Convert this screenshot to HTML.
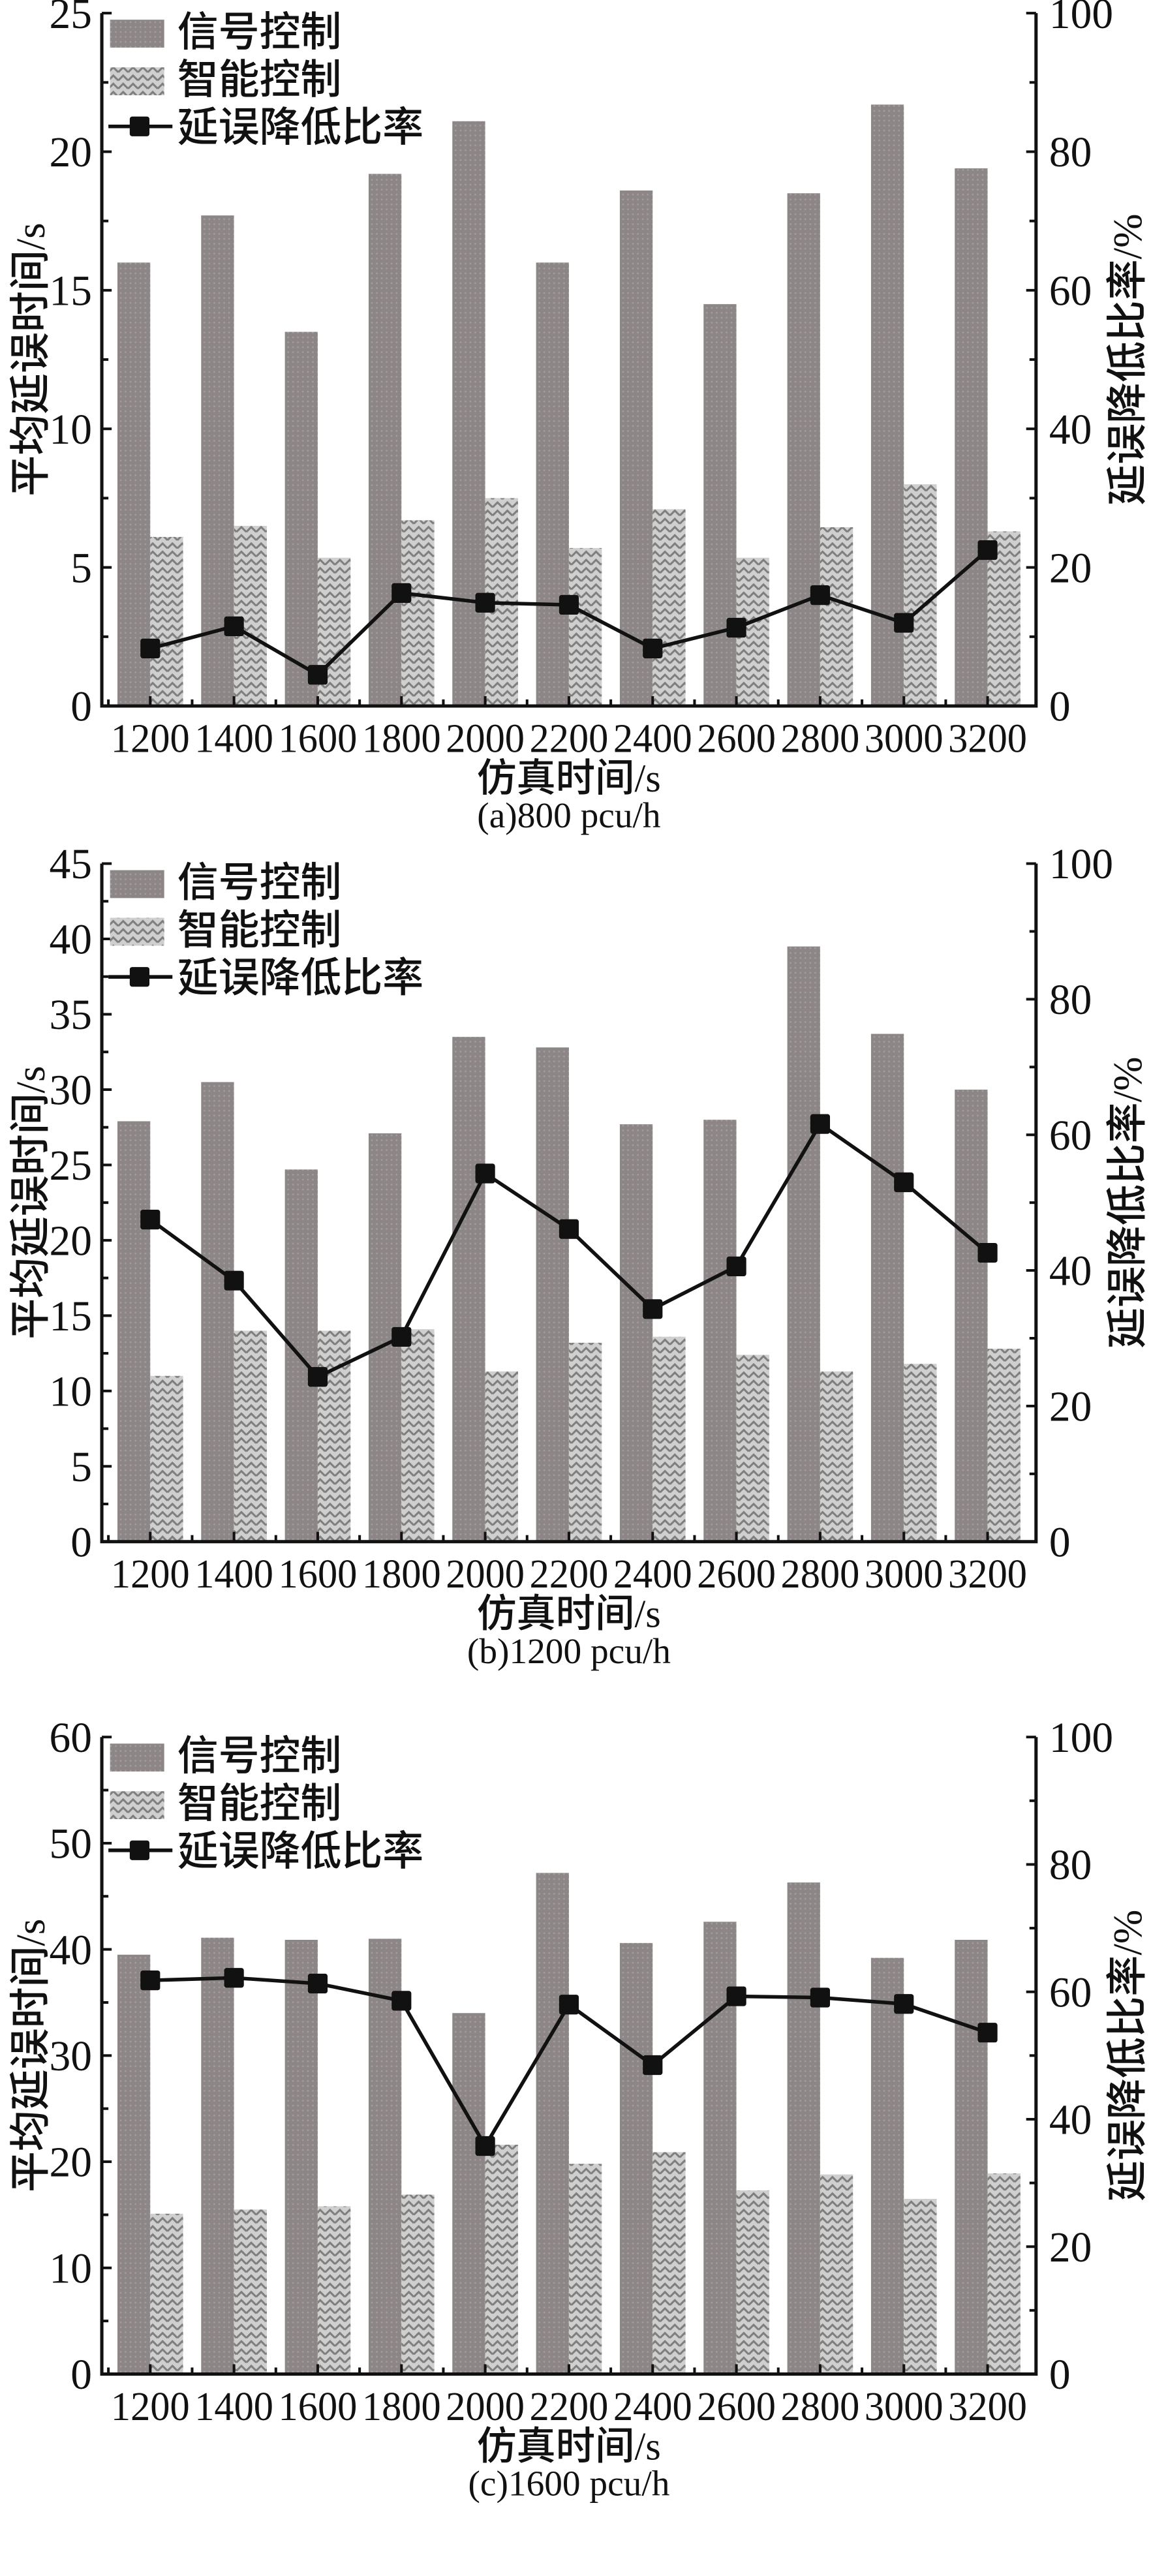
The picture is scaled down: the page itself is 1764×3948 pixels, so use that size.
<!DOCTYPE html>
<html><head><meta charset="utf-8"><style>
html,body{margin:0;padding:0;background:#fff}
svg{display:block}
text{font-family:"Liberation Serif","Noto Serif CJK SC",serif;fill:#111}
.cjk{font-family:"Noto Sans CJK SC","Noto Serif CJK SC",sans-serif;font-weight:500}
</style></head><body>
<svg id="fig" width="1764" height="3948" viewBox="0 0 701 1569" xmlns="http://www.w3.org/2000/svg">
<defs>
<pattern id="pSig" width="3" height="3" patternUnits="userSpaceOnUse"><rect width="3" height="3" fill="#8d8686"/><rect x="1" y="1" width="1" height="1" fill="#a49d9d"/></pattern>
<pattern id="pSmart" width="6" height="5" patternUnits="userSpaceOnUse"><rect width="6" height="5" fill="#cfcfcf"/><path d="M0 4 L3 1 L6 4" fill="none" stroke="#7e7e7e" stroke-width="1.2"/></pattern>
</defs>
</svg>
<script>
const categories = ['1200','1400','1600','1800','2000','2200','2400','2600','2800','3000','3200'];
const signalA = [16, 17.7, 13.5, 19.2, 21.1, 16, 18.6, 14.5, 18.5, 21.7, 19.4];
const smartA = [6.1, 6.5, 5.35, 6.7, 7.5, 5.7, 7.1, 5.35, 6.45, 8.0, 6.3];
const ratioA = [8.3, 11.5, 4.5, 16.3, 14.9, 14.6, 8.3, 11.3, 16, 12, 22.5];
const signalB = [27.9, 30.5, 24.7, 27.1, 33.5, 32.8, 27.7, 28, 39.5, 33.7, 30];
const smartB = [11, 14, 14, 14.1, 11.3, 13.2, 13.6, 12.4, 11.3, 11.8, 12.8];
const ratioB = [47.5, 38.5, 24.3, 30.2, 54.3, 46.1, 34.3, 40.6, 61.6, 53, 42.6];
const signalC = [39.5, 41.1, 40.9, 41, 34, 47.2, 40.6, 42.6, 46.3, 39.2, 40.9];
const smartC = [15.1, 15.5, 15.8, 16.9, 21.6, 19.8, 20.9, 17.3, 18.8, 16.5, 18.9];
const ratioC = [61.8, 62.2, 61.3, 58.6, 35.8, 58, 48.5, 59.3, 59.1, 58.1, 53.6];
const leftTicksA = [0,5,10,15,20,25];
const leftTicksB = [0,5,10,15,20,25,30,35,40,45];
const leftTicksC = [0,10,20,30,40,50,60];
const rightTicks = [0,20,40,60,80,100];
const captions = ['(a)800 pcu/h','(b)1200 pcu/h','(c)1600 pcu/h'];

const svg = document.getElementById('fig');
const NS = 'http://www.w3.org/2000/svg';
function mk(tag, attrs, parent){const e=document.createElementNS(NS,tag);for(const k in attrs)e.setAttribute(k,attrs[k]);(parent||svg).appendChild(e);return e;}

function chart(key, top, bottom, leftTicks, sig, sm, ratio, caption){
  const g = mk('g',{});
  
  
  const L=62, R=631, lmax=leftTicks[leftTicks.length-1];
  const yL = v => bottom - (v/lmax)*(bottom-top);
  const yR = v => bottom - (v/100)*(bottom-top);
  const step=(R-L-8)/categories.length;
  const xC = i => L+4+step*(i+0.5);
  const bw=20;
  categories.forEach((c,i)=>{
    const b1=mk('rect',{x:xC(i)-bw,y:yL(sig[i]),width:bw,height:bottom-yL(sig[i]),fill:'url(#pSig)'},g);
    
    
    const b2=mk('rect',{x:xC(i),y:yL(sm[i]),width:bw,height:bottom-yL(sm[i]),fill:'url(#pSmart)'},g);
    
    
  });
  const pts=ratio.map((v,i)=>xC(i)+','+yR(v)).join(' ');
  const ln=mk('polyline',{points:pts,fill:'none',stroke:'#111','stroke-width':2.2},g);
  
  
  ratio.forEach((v,i)=>{
    const m=mk('rect',{x:xC(i)-6,y:yR(v)-6,width:12,height:12,rx:1.5,fill:'#111'},g);
    
    
  });
  const ax=mk('path',{d:`M${L} ${top} V${bottom} H${R} V${top}`,fill:'none',stroke:'#111','stroke-width':2},g);
  
  
  const st=leftTicks[1]-leftTicks[0];
  for(let v=0; v<=lmax+1e-9; v+=st/2){
    const major=Math.abs((v/st)-Math.round(v/st))<1e-6;
    mk('line',{x1:L,x2:L+(major?6:4),y1:yL(v),y2:yL(v),stroke:'#111','stroke-width':1.6},g);
  }
  leftTicks.forEach(v=>{
    const t=mk('text',{x:L-6,y:yL(v)+9,'text-anchor':'end','font-size':26},g);t.textContent=v;
    
    
  });
  for(let v=0; v<=100; v+=10){
    const major=v%20===0;
    mk('line',{x1:R,x2:R-(major?6:4),y1:yR(v),y2:yR(v),stroke:'#111','stroke-width':1.6},g);
  }
  rightTicks.forEach(v=>{
    const t=mk('text',{x:R+8,y:yR(v)+9,'font-size':26},g);t.textContent=v;
    
    
  });
  categories.forEach((c,i)=>{
    mk('line',{x1:L+4+step*i,x2:L+4+step*i,y1:bottom,y2:bottom-4,stroke:'#111','stroke-width':1.6},g);
    mk('line',{x1:xC(i),x2:xC(i),y1:bottom,y2:bottom-6,stroke:'#111','stroke-width':1.6},g);
    const t=mk('text',{x:xC(i),y:bottom+28,'text-anchor':'middle','font-size':25,textLength:48,lengthAdjust:'spacingAndGlyphs'},g);t.textContent=c;
    
    
  });
  const xt=mk('text',{x:(L+R)/2,y:bottom+52,'text-anchor':'middle','font-size':24},g);
  xt.innerHTML='<tspan class="cjk">仿真时间</tspan>/s';
  
  
  const cp=mk('text',{x:(L+R)/2,y:bottom+74,'text-anchor':'middle','font-size':22},g);cp.textContent=caption;
  
  
  const my=(top+bottom)/2;
  const yt=mk('text',{x:0,y:0,'text-anchor':'middle','font-size':25,transform:`translate(27 ${my}) rotate(-90)`},g);
  yt.innerHTML='<tspan class="cjk">平均延误时间</tspan>/s';
  
  
  const yt2=mk('text',{x:0,y:0,'text-anchor':'middle','font-size':25,transform:`translate(695 ${my}) rotate(-90)`},g);
  yt2.innerHTML='<tspan class="cjk">延误降低比率</tspan>/%';
  
  
  const lg=mk('g',{},g);
  
  
  mk('rect',{x:67,y:top+4,width:33,height:17,fill:'url(#pSig)'},lg);
  mk('rect',{x:67,y:top+33,width:33,height:17,fill:'url(#pSmart)'},lg);
  mk('line',{x1:66,x2:105,y1:top+69,y2:top+69,stroke:'#111','stroke-width':2.2},lg);
  mk('rect',{x:79,y:top+63,width:12,height:12,rx:1.5,fill:'#111'},lg);
  [['信号控制',top+20],['智能控制',top+49],['延误降低比率',top+78]].forEach(([s,y])=>{
    const t=mk('text',{x:108,y:y,'font-size':25,class:'cjk'},lg);t.textContent=s;
    
    
  });
}
chart('a', 8, 430, leftTicksA, signalA, smartA, ratioA, captions[0]);
chart('b', 526, 939, leftTicksB, signalB, smartB, ratioB, captions[1]);
chart('c', 1058, 1446, leftTicksC, signalC, smartC, ratioC, captions[2]);
</script>
</body></html>
